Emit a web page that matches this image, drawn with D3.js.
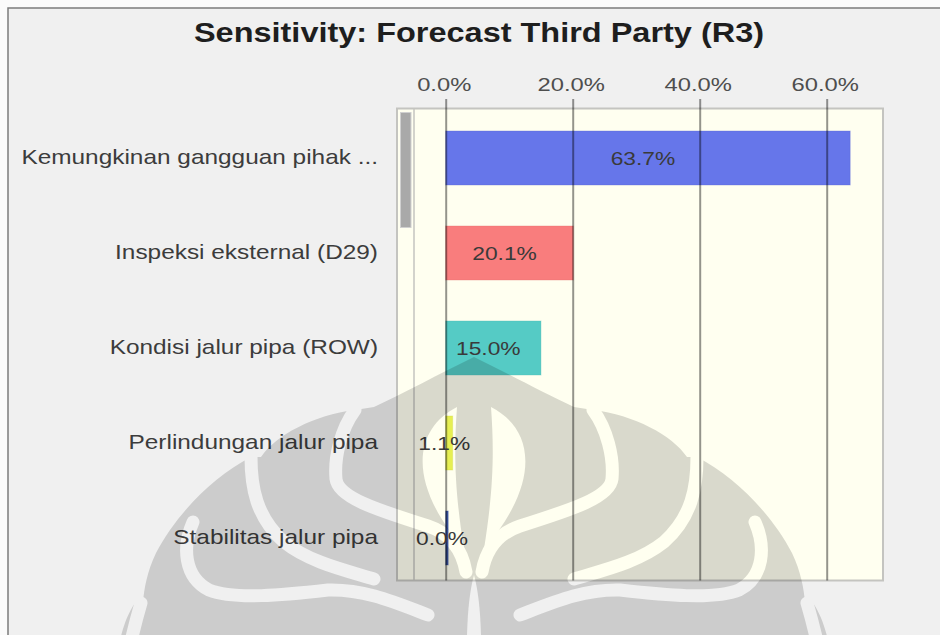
<!DOCTYPE html>
<html>
<head>
<meta charset="utf-8">
<script src="https://cdn.jsdelivr.net/npm/d3@7"></script>
<style>
  html, body { margin: 0; padding: 0; background: #fbfbfb; }
  svg { display: block; }
  text { font-family: "Liberation Sans", Arial, sans-serif; }
</style>
</head>
<body>
<svg id="chart" width="940" height="635"></svg>
<script>
// Sensitivity of the third-party forecast (R3) to each input
const categories = [
  "Kemungkinan gangguan pihak ...",
  "Inspeksi eksternal (D29)",
  "Kondisi jalur pipa (ROW)",
  "Perlindungan jalur pipa",
  "Stabilitas jalur pipa"
];
const values = [0.637, 0.201, 0.150, 0.011, 0.000];
const barColors = ["#6676ea", "#f97d7d", "#55cbc5", "#e6ef52", "#3b56a6"];
const tickValues = [0, 0.2, 0.4, 0.6];
const title = "Sensitivity: Forecast Third Party (R3)";

const svg = d3.select("#chart");
const W = 940, H = 635;

// panel
svg.append("rect").attr("x", 8).attr("y", 8).attr("width", W + 10).attr("height", H + 10)
  .attr("fill", "#f0f0f0").attr("stroke", "#7c7c7c").attr("stroke-width", 1.5);

// plot box
const box = { left: 397, top: 108.5, right: 883, bottom: 580.5 };
const x = d3.scaleLinear().domain([0, 0.6]).range([445.7, 826.7]);
const y = d3.scaleBand().domain(categories).range([131, 565]).paddingInner(41 / 95).paddingOuter(0);

svg.append("rect")
  .attr("x", box.left).attr("y", box.top)
  .attr("width", box.right - box.left).attr("height", box.bottom - box.top)
  .attr("fill", "#fffff0").attr("stroke", "#c4c4c0").attr("stroke-width", 2);

// scrollbar strip on the left of the box
svg.append("rect").attr("x", 400.5).attr("y", 112.5).attr("width", 10.5).attr("height", 115)
  .attr("fill", "#a9a9a9").attr("stroke", "#d0d0d0").attr("stroke-width", 1);
svg.append("line").attr("x1", 414).attr("x2", 414).attr("y1", box.top).attr("y2", box.bottom)
  .attr("stroke", "#c4c4c0").attr("stroke-width", 1.5);

// helper: horizontally widened text
function label(sel, tx, ty, sx, str) {
  return sel.append("text")
    .attr("transform", `translate(${tx},${ty}) scale(${sx},1)`)
    .text(str);
}

// bars
const bars = svg.append("g");
bars.selectAll("rect").data(values).join("rect")
  .attr("x", x(0))
  .attr("y", (d, i) => y(categories[i]))
  .attr("width", d => Math.max(x(d) - x(0), 2.5))
  .attr("height", y.bandwidth())
  .attr("fill", (d, i) => barColors[i])
  .attr("stroke", (d, i) => d3.color(barColors[i]).darker(0.3))
  .attr("stroke-opacity", 0.35)
  .attr("stroke-width", 1);

// x axis on top with grid lines running through the box
const xAxis = d3.axisTop(x).tickValues(tickValues).tickFormat(d3.format(".1%"))
  .tickSize(-(box.bottom - 99)).tickPadding(0);
const axisG = svg.append("g").attr("transform", "translate(0,99)").call(xAxis);
axisG.select(".domain").remove();
axisG.selectAll(".tick line")
  .attr("stroke", "#000").attr("stroke-opacity", 0.42).attr("stroke-width", 2);
axisG.selectAll(".tick text").remove();
axisG.selectAll(".tick").each(function (d) {
  d3.select(this).append("text")
    .attr("transform", "translate(-2,-8) scale(1.25,1)")
    .attr("text-anchor", "middle")
    .attr("fill", "#4e4e4e")
    .attr("font-size", 19)
    .text(d3.format(".1%")(d));
});

// value labels
const valG = svg.append("g").attr("fill", "#3a3a3a").attr("font-size", 19).attr("text-anchor", "middle");
values.forEach((v, i) => {
  const cx = (x(0) + Math.max(x(v), x(0) + 2.5)) / 2 - 5;
  label(valG, cx, y(categories[i]) + y.bandwidth() / 2 + 7, 1.2, d3.format(".1%")(v));
});

// category labels
const catG = svg.append("g").attr("fill", "#3c3c3c").attr("font-size", 20).attr("text-anchor", "end");
categories.forEach(c => {
  label(catG, 378, y(c) + y.bandwidth() / 2 + 6, 1.22, c);
});

// title
label(svg.append("g").attr("fill", "#1e1e1e").attr("font-size", 28).attr("font-weight", "bold")
  .attr("text-anchor", "middle"), 479, 42, 1.16, title);

// makara emblem drawn faintly over the lower part of the panel
const defs = svg.append("defs");
const mask = defs.append("mask").attr("id", "emblem").attr("maskUnits", "userSpaceOnUse")
  .attr("x", 0).attr("y", 0).attr("width", W).attr("height", H);
const half = "M0,0 C35,17 70,36 100,50 L119,53 C160,58 198,78 213,100 L223,100 " +
  "C262,120 298,158 318,196 C327,215 330,232 331,246 L339,246 C350,262 356,285 360,320 L0,320 Z";
const gaps = [
  "M119,53 C133,72 140,100 138,122 C136,140 100,152 46,169 C25,176 12,192 8,215",
  "M223,100 C223,130 218,160 190,185 C165,205 130,213 100,222",
  "M281,165 C292,190 290,220 265,233 C240,243 190,238 146,233 C110,232 80,245 46,258",
  "M333,246 C340,270 345,290 350,320"
];
const leaves = [
  "M17,50 C60,72 68,125 10,192 C20,130 20,92 17,50 Z",
  "M0,218 C6,240 8,272 7,320 L0,320 Z"
];
const mg = mask.append("g").attr("transform", "translate(474,357)");
[1, -1].forEach(s => {
  const g = mg.append("g").attr("transform", `scale(${s},1)`);
  g.append("path").attr("d", half).attr("fill", "#fff");
});
[1, -1].forEach(s => {
  const g = mg.append("g").attr("transform", `scale(${s},1)`);
  gaps.forEach(d => g.append("path").attr("d", d).attr("fill", "none")
    .attr("stroke", "#000").attr("stroke-width", 13).attr("stroke-linecap", "round"));
  leaves.forEach(d => g.append("path").attr("d", d).attr("fill", "#000"));
});
svg.append("rect").attr("width", W).attr("height", H)
  .attr("fill", "#000").attr("fill-opacity", 0.15).attr("mask", "url(#emblem)");
</script>
</body>
</html>
